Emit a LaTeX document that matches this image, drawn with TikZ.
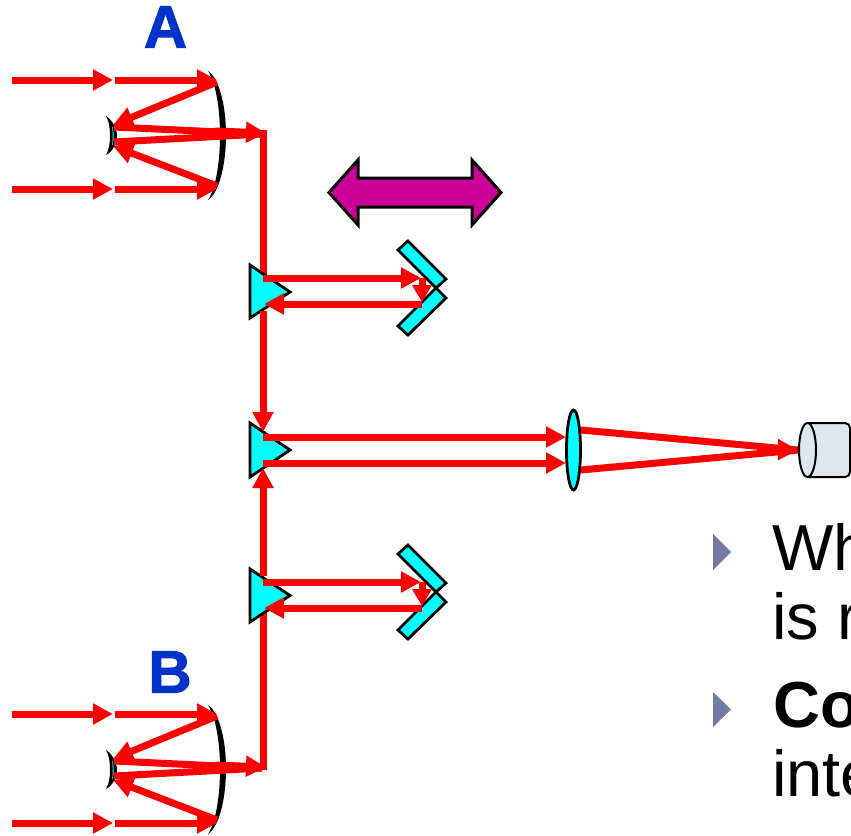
\documentclass[tikz,border=0pt]{standalone}
\usepackage{fontspec}
\setmainfont{Liberation Sans}
\newfontfamily\heavyfont[FakeBold=1.6]{Liberation Sans Bold}
\usetikzlibrary{arrows.meta}
\definecolor{ray}{HTML}{FF0000}
\definecolor{optic}{HTML}{00FFFF}
\definecolor{titleblue}{HTML}{0033CC}
\definecolor{purp}{HTML}{CC0099}
\definecolor{bul}{HTML}{737BA5}
\definecolor{cyl}{HTML}{DDE8EC}
\tikzset{
 rayline/.style={draw=ray,line width=7pt,line cap=butt},
 rayarrow/.style={rayline,-{Triangle[length=20pt,width=20pt,sep=0pt]}},
 smallarrow/.style={rayline,-{Triangle[length=17pt,width=19pt]}},
 opticpart/.style={draw=black,fill=optic,line width=2.8pt,line join=miter},
 bodytext/.style={font=\fontsize{65pt}{69pt}\selectfont,text=black,anchor=base west,inner sep=0pt},
 labeltext/.style={font=\fontsize{60pt}{60pt}\selectfont\heavyfont,text=titleblue,inner sep=0pt},
 bullet/.style={fill=bul,draw=none}
}
\newcommand{\telescope}[1]{%
 \begin{scope}[yshift=-#1pt]
  \coordinate (in1a) at (12,80); \coordinate (in1b) at (113,80);
  \coordinate (in1c) at (115,80); \coordinate (in1d) at (217,80);
  \coordinate (in2a) at (12,189); \coordinate (in2b) at (113,189);
  \coordinate (in2c) at (115,189); \coordinate (in2d) at (217,189);
  \coordinate (sec1) at (113,125); \coordinate (sec2) at (113,146);
  \coordinate (corner) at (266,133);
  \fill[black] (208,71) .. controls (219,78) and (226,105) .. (226,135)
     .. controls (226,165) and (219,193) .. (208,200)
     .. controls (215,190) and (220,165) .. (220,135)
     .. controls (220,105) and (215,82) .. (208,71) -- cycle;
  \fill[black] (106,116) .. controls (112,120) and (117,128) .. (117,136)
     .. controls (117,144) and (112,152) .. (106,155)
     .. controls (109,150) and (110,143) .. (110,136)
     .. controls (110,128) and (109,121) .. (106,116) -- cycle;
  \fill[optic] (112,126) .. controls (114,130) and (114.5,141) .. (112,146)
     .. controls (113,140) and (113,132) .. (112,126) -- cycle;
  \draw[rayarrow] (in1a) -- (in1b);
  \draw[rayarrow] (in1c) -- (in1d);
  \draw[rayarrow] (in2a) -- (in2b);
  \draw[rayarrow] (in2c) -- (in2d);
  \draw[rayarrow] (in1d) ++(0,2) -- (sec1);
  \draw[rayarrow] (in2d) ++(0,-3) -- (sec2);
  \draw[rayline] (114,127) -- (262,134);
  \draw[rayline] (114,142) -- (262,134);
  \draw[rayarrow] (215,131) -- (corner);
 \end{scope}}
\newcommand{\roof}[1]{%
 \begin{scope}[yshift=-#1pt]
  \path[opticpart] (398,250) -- (408,241) -- (446,279) -- (436,288) -- cycle;
  \path[opticpart] (436,288) -- (446,298) -- (408,335) -- (398,326) -- cycle;
 \end{scope}}
\begin{document}
\begin{tikzpicture}[x=1pt,y=-1pt]
 \useasboundingbox (0,0) rectangle (851,835);
 \clip (0,0) rectangle (851,835);

 % vertical beams under the prisms
 \coordinate (vtop) at (263,130);
 \coordinate (vmidU) at (263,432);
 \coordinate (vbot) at (263,770);
 \coordinate (vmidL) at (263,468);
 \draw[rayline] (vtop) -- (263,300);
 \draw[rayline] (vbot) -- (263,600);

 \telescope{0}
 \telescope{634}

 \node[labeltext] (labA) at (165.5,27) {A};
 \node[labeltext] (labB) at (170,672) {B};

 % roof mirrors
 \roof{0}
 \roof{304}

 % prisms
 \path[opticpart] (250,265) -- (290,292) -- (250,318) -- cycle;
 \path[opticpart] (250,423) -- (290,450) -- (250,477) -- cycle;
 \path[opticpart] (250,569) -- (290,595.5) -- (250,622) -- cycle;

 % beams over the prisms
 \draw[rayarrow] (263,311) -- (vmidU);
 \draw[rayarrow] (263,576) -- (vmidL);

 % upper delay line
 \coordinate (u1) at (263,278); \coordinate (u2) at (421,278);
 \coordinate (u3) at (422,278); \coordinate (u4) at (422,302);
 \coordinate (u5) at (422,304); \coordinate (u6) at (264,304);
 \draw[rayarrow] (u1) -- (u2);
 \draw[smallarrow] (u3) -- (u4);
 \draw[rayarrow] (u5) -- (u6);

 % lower delay line
 \coordinate (l1) at (263,582); \coordinate (l2) at (421,582);
 \coordinate (l3) at (422,582); \coordinate (l4) at (422,606);
 \coordinate (l5) at (422,608); \coordinate (l6) at (264,608);
 \draw[rayarrow] (l1) -- (l2);
 \draw[smallarrow] (l3) -- (l4);
 \draw[rayarrow] (l5) -- (l6);

 % central beams
 \coordinate (c1) at (263,437); \coordinate (c2) at (566,437);
 \coordinate (c3) at (263,463); \coordinate (c4) at (566,463);
 \draw[rayarrow] (c1) -- (c2);
 \draw[rayarrow] (c3) -- (c4);

 % lens
 \path[opticpart] (573.5,450) ellipse [x radius=7,y radius=40];
 \coordinate (o1) at (581,430); \coordinate (o2) at (581,470);
 \coordinate (f) at (798,450);
 \draw[rayline] (o1) -- (f);
 \draw[rayline] (o2) -- (f);
 \draw[rayarrow] (770,449.5) -- (f);

 % detector
 \draw[black,fill=cyl,line width=2pt,rounded corners=5pt] (807,423) -- (850,423) -- (850,477) -- (807,477);
 \path[draw=black,fill=cyl,line width=2pt] (807.5,450) ellipse [x radius=8.5,y radius=27];

 % double arrow
 \path[draw=black,fill=purp,line width=3pt,line join=miter]
  (329,192.5) -- (358,160) -- (358,178) -- (472,178) -- (472,160) -- (501,192.5)
  -- (472,225) -- (472,207) -- (358,207) -- (358,225) -- cycle;

 % text
 \path[bullet] (713,534) -- (731,552) -- (713,570) -- cycle;
 \path[bullet] (713,692) -- (731,709.5) -- (713,727) -- cycle;
 \node[bodytext] (t1) at (772,570) {Wh};
 \node[bodytext] (t2) at (772,639) {is r};
 \node[bodytext,font=\fontsize{65pt}{69pt}\selectfont\bfseries] (t3) at (773,727) {Co};
 \node[bodytext] (t4) at (772,796) {inte};
\end{tikzpicture}
\end{document}
